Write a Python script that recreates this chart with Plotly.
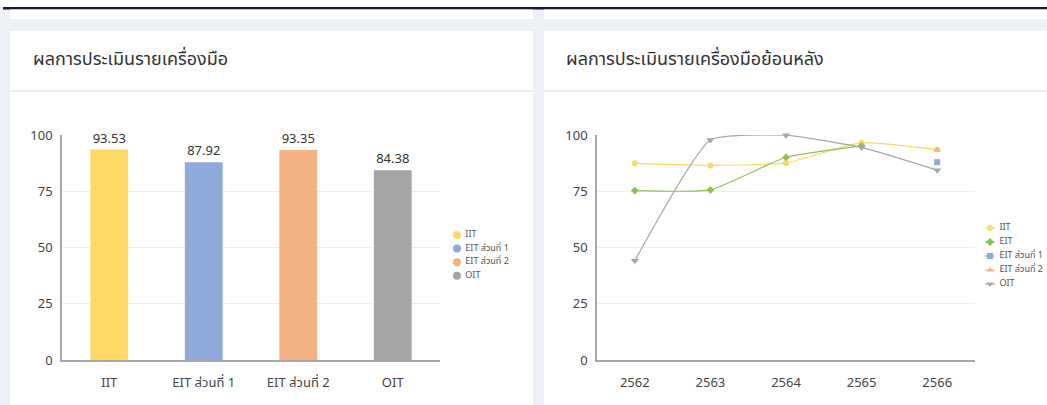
import plotly.graph_objects as go

W, H = 1047, 405

# ---- data ----
bar_categories = ["IIT", "EIT ส่วนที่ 1", "EIT ส่วนที่ 2", "OIT"]
bar_values = [93.53, 87.92, 93.35, 84.38]
bar_colors = ["#ffd966", "#8eaadb", "#f4b183", "#a5a5a5"]

years = ["2562", "2563", "2564", "2565", "2566"]
iit_hist = [87.4, 86.5, 87.6, 96.6, 93.53]
eit_hist = [75.3, 75.6, 90.1, 95.2, None]
eit1_hist = [None, None, None, None, 87.92]
eit2_hist = [None, None, None, None, 93.35]
oit_hist = [44.1, 97.8, 99.9, 94.5, 84.38]

line_names = ["IIT", "EIT", "EIT ส่วนที่ 1", "EIT ส่วนที่ 2", "OIT"]
line_colors = ["#ffd966", "#8cc152", "#8eaadb", "#f4b183", "#a5a5a5"]
line_symbols = ["circle", "diamond", "square", "triangle-up", "triangle-down"]

y_ticks = [0, 25, 50, 75, 100]

title_left = "ผลการประเมินรายเครื่องมือ"
title_right = "ผลการประเมินรายเครื่องมือย้อนหลัง"

FONT = "Noto Sans, Noto Sans Thai, Tahoma, sans-serif"


def px(x):
    return x / W


def py(y):
    return 1 - y / H


fig = go.Figure()

# ---- bar chart ----
for cat, val, col in zip(bar_categories, bar_values, bar_colors):
    fig.add_trace(go.Bar(
        x=[cat], y=[val], name=cat, marker=dict(color=col, line=dict(width=0)),
        width=0.4, text=[f"{val:.2f}"], textposition="outside",
        textfont=dict(size=13, color="#333"), cliponaxis=False,
        showlegend=False, xaxis="x", yaxis="y",
    ))

# ---- line chart ----
hist = [iit_hist, eit_hist, eit1_hist, eit2_hist, oit_hist]
for name, vals, col, sym in zip(line_names, hist, line_colors, line_symbols):
    fig.add_trace(go.Scatter(
        x=years, y=vals, name=name, mode="lines+markers",
        line=dict(color=col, width=1.2, shape="spline", smoothing=0.45),
        marker=dict(color=col, symbol=sym, size=6 if sym in ("circle", "diamond", "square") else 7),
        xaxis="x2", yaxis="y2", showlegend=False, cliponaxis=False,
    ))

# ---- custom compact legends (hidden axes in pixel units) ----
L_ROW0, L_GAP = 235, 13.6
for i, (cat, col) in enumerate(zip(bar_categories, bar_colors)):
    fig.add_trace(go.Scatter(
        x=[457], y=[L_ROW0 + i * L_GAP], mode="markers+text", text=[" " + cat],
        textposition="middle right", textfont=dict(size=9, color="#555", family=FONT),
        marker=dict(color=col, size=8, symbol="circle"),
        xaxis="x3", yaxis="y3", showlegend=False, hoverinfo="skip", cliponaxis=False,
    ))
R_ROW0, R_GAP = 228, 14
for i, (name, col, sym) in enumerate(zip(line_names, line_colors, line_symbols)):
    yy = R_ROW0 + i * R_GAP
    fig.add_trace(go.Scatter(
        x=[985, 995], y=[yy, yy], mode="lines", line=dict(color=col, width=1.2),
        xaxis="x3", yaxis="y3", showlegend=False, hoverinfo="skip", cliponaxis=False,
    ))
    fig.add_trace(go.Scatter(
        x=[990], y=[yy], mode="markers+text", text=["  " + name],
        textposition="middle right", textfont=dict(size=9, color="#555", family=FONT),
        marker=dict(color=col, size=6, symbol=sym),
        xaxis="x3", yaxis="y3", showlegend=False, hoverinfo="skip", cliponaxis=False,
    ))

shapes = []
shapes.append(dict(type="rect", xref="paper", yref="paper", x0=0, x1=1, y0=py(7), y1=1,
                   fillcolor="#ffffff", line=dict(width=0), layer="below"))
shapes.append(dict(type="rect", xref="paper", yref="paper", x0=px(3), x1=1, y0=py(9.5), y1=py(7),
                   fillcolor="#1d1645", line=dict(width=0), layer="below"))
for x0, x1 in [(10, 533), (544, W)]:
    shapes.append(dict(type="rect", xref="paper", yref="paper", x0=px(x0), x1=px(x1), y0=py(19), y1=py(9.5),
                       fillcolor="#ffffff", line=dict(width=0), layer="below"))
    shapes.append(dict(type="rect", xref="paper", yref="paper", x0=px(x0), x1=px(x1), y0=0, y1=py(31),
                       fillcolor="#ffffff", line=dict(width=0), layer="below"))
    shapes.append(dict(type="line", xref="paper", yref="paper", x0=px(x0), x1=px(x1), y0=py(91), y1=py(91),
                       line=dict(color="#e6e9ee", width=1.5), layer="below"))

axis_common = dict(showline=True, linecolor="#a8a8a8", linewidth=1.5, ticks="",
                   tickfont=dict(size=13, color="#444", family=FONT), zeroline=False)

fig.update_layout(
    width=W, height=H,
    autosize=False,
    margin=dict(l=0, r=0, t=0, b=0, pad=0, autoexpand=False),
    paper_bgcolor="#edf0f5",
    plot_bgcolor="rgba(0,0,0,0)",
    font=dict(family=FONT, color="#333"),
    showlegend=False,
    shapes=shapes,
    xaxis=dict(domain=[px(62), px(440)], anchor="y", **axis_common, showgrid=False,
               categoryorder="array", categoryarray=bar_categories, ticklabelstandoff=10),
    yaxis=dict(domain=[py(360), py(135)], anchor="x", range=[0, 100], tickvals=y_ticks,
               showgrid=True, gridcolor="#eeeeee", gridwidth=1, ticklabelstandoff=5, **axis_common),
    xaxis2=dict(domain=[px(597), px(975)], anchor="y2", **axis_common, showgrid=False, type="category",
                range=[-0.5, len(years) - 0.5], ticklabelstandoff=10),
    yaxis2=dict(domain=[py(360), py(135)], anchor="x2", range=[0, 100], tickvals=y_ticks,
                showgrid=True, gridcolor="#eeeeee", gridwidth=1, ticklabelstandoff=5, **axis_common),
    xaxis3=dict(domain=[0, 1], range=[0, W], visible=False, fixedrange=True),
    yaxis3=dict(domain=[0, 1], range=[H, 0], visible=False, fixedrange=True, anchor="x3"),
    annotations=[
        dict(text=title_left, xref="paper", yref="paper", x=px(31), y=py(58), xanchor="left",
             yanchor="middle", showarrow=False, font=dict(size=18, color="#333", family=FONT)),
        dict(text=title_right, xref="paper", yref="paper", x=px(564), y=py(58), xanchor="left",
             yanchor="middle", showarrow=False, font=dict(size=18, color="#333", family=FONT)),
    ],
)

fig.write_html("out.html", config={"displayModeBar": False},
               post_script="document.body.style.margin='0';document.body.style.overflow='hidden';")
